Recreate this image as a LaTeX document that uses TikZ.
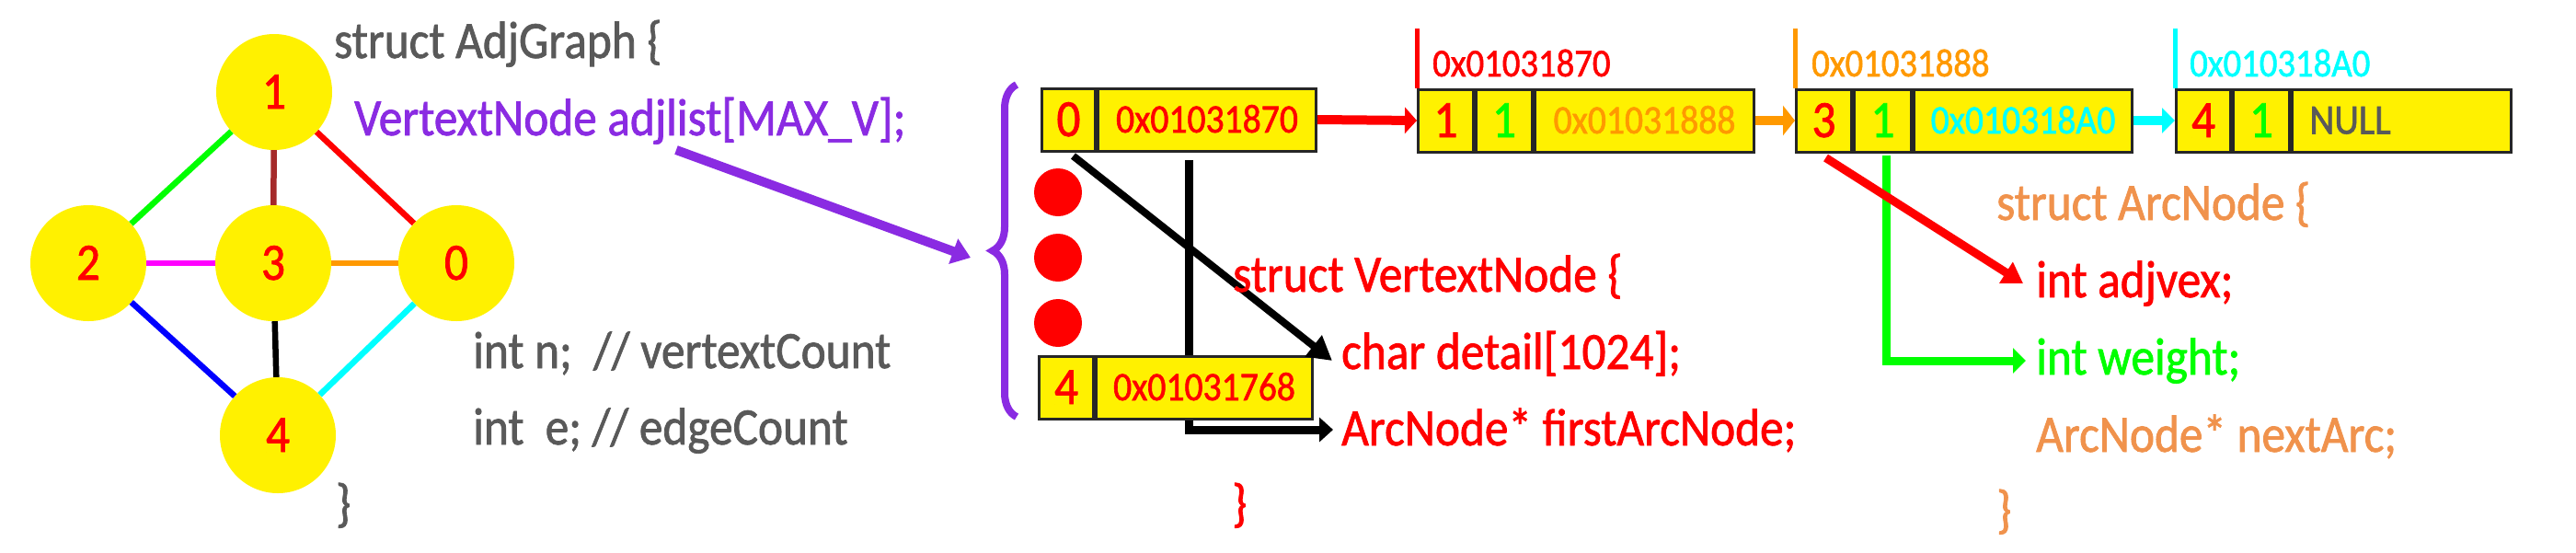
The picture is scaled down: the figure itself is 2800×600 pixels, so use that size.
\documentclass[tikz,border=0pt]{standalone}
\usepackage{fontspec}
\setmainfont{Carlito}[FakeStretch=0.9,FakeBold=1.3]
\usetikzlibrary{arrows.meta,decorations.pathreplacing}
\definecolor{yel}{HTML}{FFF100}
\definecolor{gtxt}{HTML}{595959}
\definecolor{purp}{HTML}{8A2BE2}
\definecolor{org}{HTML}{FF9900}
\definecolor{lorg}{HTML}{F0924C}
\definecolor{brn}{HTML}{A52A2A}
\definecolor{grn}{HTML}{00FF00}
\definecolor{cyn}{HTML}{00FFFF}
\definecolor{mag}{HTML}{FF00FF}
\definecolor{blu}{HTML}{0000FF}
\definecolor{rd}{HTML}{FF0000}
\newcommand\myfbig{\fontsize{57}{60}\selectfont}
\newcommand\myfaddr{\fontsize{44}{48}\selectfont}
\newcommand\myflab{\fontsize{43}{46}\selectfont}
\newcommand\myfnull{\fontsize{46}{50}\selectfont}
\begin{document}
\begin{tikzpicture}[x=1pt,y=-1pt,
  vert/.style={circle, fill=yel, minimum size=126pt, inner sep=0pt, text=rd, font=\myfbig, text height=36pt, text depth=0pt},
  gedge/.style={line width=6.5pt},
  code/.style={anchor=base west, inner sep=0pt, font=\myfbig},
  cell/.style={draw=black!85, line width=3pt, fill=yel, inner sep=0pt, minimum height=68pt, anchor=west, text height=36pt, text depth=0pt, font=\myfbig},
  acell/.style={cell, font=\myfaddr, text height=28pt},
  reddot/.style={circle, fill=rd, minimum size=52pt, inner sep=0pt},
  marker/.style={line width=5pt},
  lab/.style={anchor=base west, inner sep=0pt, font=\myflab},
]
\useasboundingbox (0,0) rectangle (2800,600);

% ---------------- graph ----------------
\node[vert] (n1) at (298,100) {1};
\node[vert] (n2) at (96,286) {2};
\node[vert] (n3) at (297,286) {3};
\node[vert] (n0) at (496,286) {0};
\node[vert] (n4) at (302,473) {4};
\draw[gedge, grn] (n1) -- (n2);
\draw[gedge, brn] (n1) -- (n3);
\draw[gedge, rd] (n1) -- (n0);
\draw[gedge, mag] (n2) -- (n3);
\draw[gedge, org] (n3) -- (n0);
\draw[gedge, blu] (n2) -- (n4);
\draw[gedge, black] (n3) -- (n4);
\draw[gedge, cyn] (n4) -- (n0);

% ---------------- AdjGraph struct ----------------
\node[code, text=gtxt] (ag1) at (363,63) {struct AdjGraph \{};
\node[code, text=purp] (ag2) at (385,147) {VertextNode adjlist[MAX\_V];};
\node[code, text=gtxt] (ag3) at (514,400) {int n;\ \ // vertextCount};
\node[code, text=gtxt] (ag4) at (514,483) {int\ \ e; // edgeCount};
\node[code, text=gtxt] (ag5) at (365,566) {\}};

\coordinate (pstart) at (735,163);
\coordinate (ptip) at (1055,280);
\draw[purp, line width=10pt, -{Triangle[length=20pt,width=28pt]}] (pstart) -- (ptip);
\draw[purp, line width=8pt, decorate, decoration={brace, amplitude=26pt}] (1105,453) -- (1105,92);

% ---------------- vertex array ----------------
\coordinate (vtop) at (1292,174);
\coordinate (fatip) at (1449,467);
\draw[black, line width=9pt, -{Triangle[length=15pt,width=26pt]}] (vtop) |- (fatip);

\node[cell, minimum width=58pt, text=rd] (v0i) at (1131,130) {0};
\node[acell, minimum width=237pt, text=rd] (v0a) at (v0i.east) {0x01031870};
\node[cell, minimum width=59pt, text=rd] (v4i) at (1128,421) {4};
\node[acell, minimum width=235pt, text=rd] (v4a) at (v4i.east) {0x01031768};

\node[reddot] (d1) at (1150,209) {};
\node[reddot] (d2) at (1150,280) {};
\node[reddot] (d3) at (1150,351) {};

\coordinate (cdtip) at (1448,392);
\draw[black, line width=8pt, -{Triangle[length=26pt,width=28pt]}] ([xshift=5pt,yshift=-4pt]v0i.south) -- (cdtip);

\node[code, text=rd] (vn1) at (1340,317) {struct VertextNode \{};
\node[code, text=rd] (vn2) at (1458,401) {char detail[1024];};
\node[code, text=rd] (vn3) at (1458,484) {ArcNode* firstArcNode;};
\node[code, text=rd] (vn4) at (1339,566) {\}};

% ---------------- arc nodes ----------------
\node[cell, minimum width=60pt, text=rd] (Ai) at (1540,131) {1};
\node[cell, minimum width=61pt, text=grn] (Aw) at (Ai.east) {1};
\node[acell, minimum width=238pt, text=org] (Aa) at (Aw.east) {0x01031888};

\node[cell, minimum width=60pt, text=rd] (Bi) at (1951,131) {3};
\node[cell, minimum width=62pt, text=grn] (Bw) at (Bi.east) {1};
\node[acell, minimum width=237pt, text=cyn] (Ba) at (Bw.east) {0x010318A0};

\node[cell, minimum width=59pt, text=rd] (Ci) at (2364,131) {4};
\node[cell, minimum width=61pt, text=grn] (Cw) at (Ci.east) {1};
\node[acell, minimum width=238pt, text=gtxt, font=\myfnull, text height=29pt] (Ca) at (Cw.east) {\makebox[200pt][l]{NULL}};

\coordinate (mA) at ([yshift=65pt]Ai.north west);
\coordinate (mB) at ([yshift=65pt]Bi.north west);
\coordinate (mC) at ([yshift=65pt]Ci.north west);
\draw[marker, rd] (Ai.north west) -- (mA);
\draw[marker, org] (Bi.north west) -- (mB);
\draw[marker, cyn] (Ci.north west) -- (mC);
\node[lab, text=rd] (lA) at (1557,83) {0x01031870};
\node[lab, text=org] (lB) at (1969,83) {0x01031888};
\node[lab, text=cyn] (lC) at (2380,83) {0x010318A0};

\draw[rd, line width=10pt, -{Triangle[length=13pt,width=28pt]}] (v0a.east) -- (Ai.west);
\draw[org, line width=10pt, -{Triangle[length=13pt,width=32pt]}] (Aa.east) -- (Bi.west);
\draw[cyn, line width=10pt, -{Triangle[length=14pt,width=27pt]}] (Ba.east) -- (Ci.west);

% ---------------- ArcNode struct ----------------
\coordinate (wtip) at (2202,392);
\draw[grn, line width=9pt, -{Triangle[length=14pt,width=27pt]}] ([xshift=4pt,yshift=-2pt]Bw.south) |- (wtip);
\coordinate (adjtip) at (2199,308);
\draw[rd, line width=9pt, -{Triangle[length=22pt,width=26pt]}] ([xshift=2pt,yshift=-5pt]Bi.south) -- (adjtip);

\node[code, text=lorg] (an1) at (2170,239) {struct ArcNode \{};
\node[code, text=rd] (an2) at (2213,323) {int adjvex;};
\node[code, text=grn] (an3) at (2213,407) {int weight;};
\node[code, text=lorg] (an4) at (2213,491) {ArcNode* nextArc;};
\node[code, text=lorg] (an5) at (2170,573) {\}};
\end{tikzpicture}
\end{document}
